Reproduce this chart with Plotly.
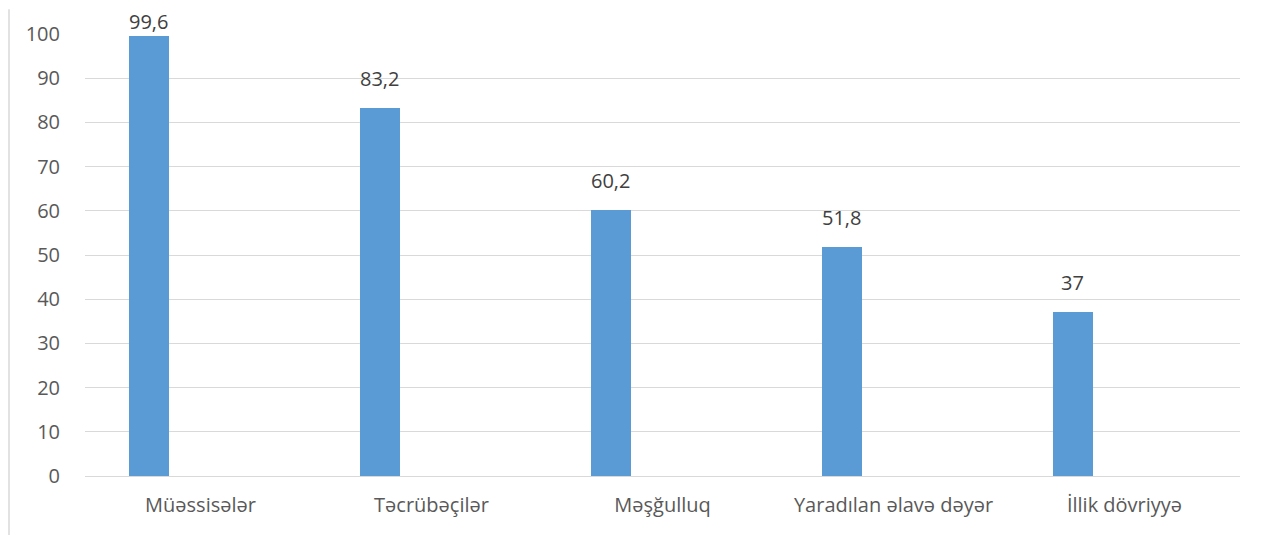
import plotly.graph_objects as go

categories = ["Müəssisələr", "Təcrübəçilər", "Məşğulluq", "Yaradılan əlavə dəyər", "İllik dövriyyə"]
values = [99.6, 83.2, 60.2, 51.8, 37]
y_ticks = [0, 10, 20, 30, 40, 50, 60, 70, 80, 90, 100]

labels = [("%g" % v).replace(".", ",") for v in values]

FONT = "Open Sans"
BAR_W = 0.173
BAR_OFF = -0.31
Y_MAX = 100

fig = go.Figure()
fig.add_trace(go.Bar(
    x=categories, y=values,
    width=BAR_W, offset=BAR_OFF,
    marker=dict(color="#5B9BD5", line=dict(width=0)),
    hoverinfo="x+y",
))

annotations = []
for i, (v, lab) in enumerate(zip(values, labels)):
    shift = 14 if v < 0.95 * Y_MAX else -1
    annotations.append(dict(
        x=i + BAR_OFF + BAR_W / 2, y=v, xref="x", yref="y",
        text=lab, showarrow=False, yanchor="bottom", xanchor="center",
        yshift=shift, font=dict(family=FONT, size=20, color="#404040"),
    ))

# page body adds an 8px offset; figure sized to fit inside the window
W, H = 1256, 527
L, R, T, B = 77, 24, 20, 59
pw = W - L - R
ph = H - T - B

fig.update_layout(
    width=W, height=H,
    margin=dict(l=L, r=R, t=T, b=B),
    paper_bgcolor="white", plot_bgcolor="white",
    showlegend=False,
    bargap=0,
    annotations=annotations,
    xaxis=dict(
        type="category", showgrid=False, showline=False, zeroline=False,
        ticks="outside", ticklen=11, tickcolor="rgba(0,0,0,0)",
        tickfont=dict(family=FONT, size=20, color="#595959"),
    ),
    yaxis=dict(
        range=[0, Y_MAX], tickvals=y_ticks,
        showgrid=True, gridcolor="#D9D9D9", gridwidth=1.3,
        zeroline=True, zerolinecolor="#D9D9D9", zerolinewidth=1.3,
        showline=False,
        ticks="outside", ticklen=20, tickcolor="rgba(0,0,0,0)",
        tickfont=dict(family=FONT, size=20, color="#595959"),
    ),
    shapes=[
        dict(type="line", xref="paper", yref="paper",
             x0=(1 - L) / pw, x1=(1 - L) / pw, y0=(H - B + 5) / ph, y1=-(B + 5) / ph,
             line=dict(color="#D9D9D9", width=1.5)),
    ],
)

fig.write_html("out.html")
